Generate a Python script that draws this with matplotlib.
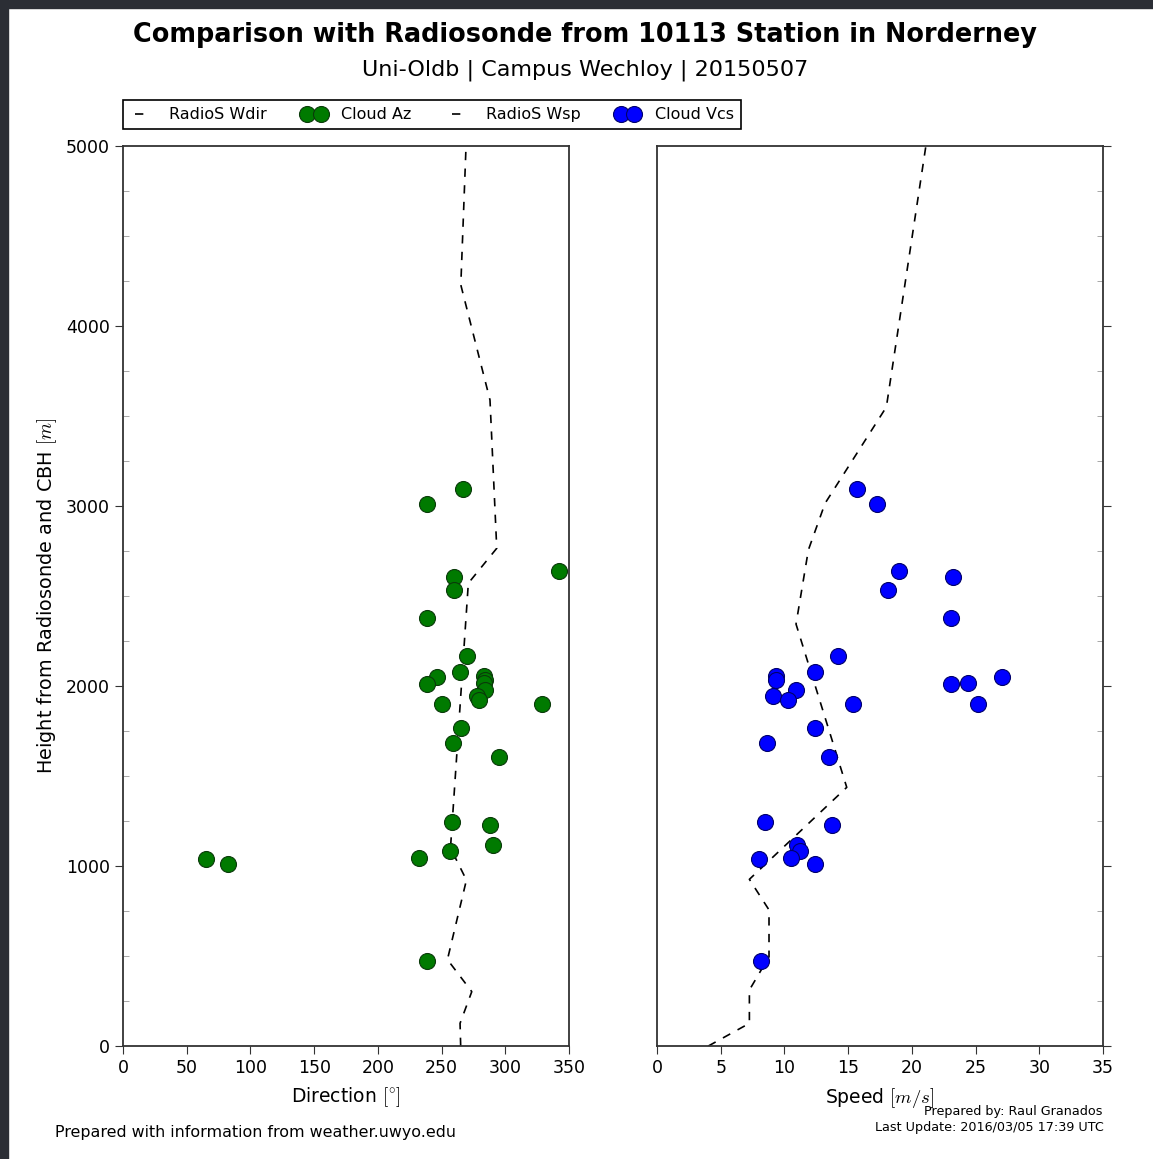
import numpy as np
import matplotlib
matplotlib.use('Agg')
import matplotlib.pyplot as plt
from matplotlib.patches import Rectangle

plt.rcParams['mathtext.fontset'] = 'cm'
plt.rcParams['font.family'] = 'DejaVu Sans'

# cloud base heights and matched cloud motion (azimuth / speed)
cbh = [3093, 3011, 2641, 2605, 2531, 2380, 2168, 2078, 2056, 2050, 2033, 2015, 2011,
       1980, 1942, 1922, 1900, 1900, 1764, 1683, 1607, 1247, 1226, 1115, 1084, 1043,
       1038, 1013, 472]
cloud_az = [267, 238.6, 342.5, 260, 260, 238.6, 269.8, 264.8, 283.4, 246.2, 284, 283, 238.6,
            284, 277.6, 279.2, 250.1, 328.6, 265, 259.3, 294.9, 258, 288, 290, 256.4, 232,
            65.4, 82.4, 238.6]
cloud_vcs = [15.7, 17.3, 19.0, 23.2, 18.1, 23.05, 14.2, 12.4, 9.3, 27.1, 9.3, 24.4, 23.05,
             10.9, 9.1, 10.3, 15.4, 25.2, 12.4, 8.6, 13.5, 8.45, 13.7, 11.0, 11.2, 10.5,
             8.0, 12.4, 8.2]

# radiosonde profiles (10113 Norderney)
hgt_wdir = [0, 126, 302, 480, 922, 1100, 2571, 2765, 3589, 4228, 5000]
wdir = [265, 264.5, 273.7, 254.6, 269.5, 257, 271, 293.3, 288, 265.1, 269.2]
hgt_wsp = [0, 126, 311, 496, 756, 926, 1437, 2344, 2756, 3015, 3550, 5000]
wsp = [4.03, 7.25, 7.25, 8.79, 8.79, 7.25, 14.89, 10.91, 11.88, 13.19, 18.0, 21.1]

W, H = 1153, 1159
fig = plt.figure(figsize=(W/100, H/100), dpi=100)
fig.patch.set_facecolor('white')

# dark screenshot frame on left/top
fig.patches.append(Rectangle((0, 0), 8/W, 1, transform=fig.transFigure, color='#2b2e35', zorder=0))
fig.patches.append(Rectangle((0, 1-8/H), 1, 8/H, transform=fig.transFigure, color='#2b2e35', zorder=0))

ax1 = fig.add_axes([123/W, 113/H, 446/W, 900/H])
ax2 = fig.add_axes([657/W, 113/H, 446/W, 900/H])

ax1.plot(wdir, hgt_wdir, color='k', ls='--', lw=1.2, dashes=(5, 5), label='RadioS Wdir')
ax1.plot(cloud_az, cbh, ls='', marker='o', ms=11.5, mfc='#007a00', mec='#0a3a0a', mew=0.8, label='Cloud Az')
ax2.plot(wsp, hgt_wsp, color='k', ls='--', lw=1.2, dashes=(5, 5), label='RadioS Wsp')
ax2.plot(cloud_vcs, cbh, ls='', marker='o', ms=11.5, mfc='#0000ff', mec='#00006a', mew=0.8, label='Cloud Vcs')

ax1.set_xlim(0, 350)
ax2.set_xlim(0, 35)
for ax in (ax1, ax2):
    ax.set_ylim(0, 5000)
    ax.set_yticks(np.arange(0, 5001, 1000))
    ax.set_yticks(np.arange(0, 5001, 250), minor=True)
    for s in ax.spines.values():
        s.set_color('#333333')
        s.set_linewidth(1.3)
    ax.tick_params(axis='both', which='major', labelsize=12.5, direction='out', length=6, color='#333333')
    ax.tick_params(axis='y', which='minor', direction='in', length=4, color='#999999')
ax1.set_xticks(np.arange(0, 351, 50))
ax2.set_xticks(np.arange(0, 36, 5))
ax2.yaxis.tick_right()
ax2.tick_params(axis='y', which='both', labelright=False)

ax1.set_xlabel(r'Direction $[^{\circ}]$', fontsize=13.5, labelpad=6)
ax2.set_xlabel(r'Speed $[m/s]$', fontsize=13.5, labelpad=6)
ax1.set_ylabel(r'Height from Radiosonde and CBH $[m]$', fontsize=13.9, labelpad=5)

fig.text(585/W, 1-35/H, 'Comparison with Radiosonde from 10113 Station in Norderney',
         ha='center', va='center', fontsize=18.4, fontweight='bold')
fig.text(585/W, 1-70/H, 'Uni-Oldb | Campus Wechloy | 20150507',
         ha='center', va='center', fontsize=16)

h1, l1 = ax1.get_legend_handles_labels()
h2, l2 = ax2.get_legend_handles_labels()
leg = fig.legend(h1+h2, l1+l2, loc='upper left', bbox_to_anchor=(123/W, 1-100/H), ncol=4,
                 numpoints=2, fontsize=11.5, fancybox=False, framealpha=1, edgecolor='black',
                 borderaxespad=0, handlelength=1.45, handletextpad=1.0, columnspacing=2.2,
                 borderpad=0.45)
leg.get_frame().set_linewidth(1.2)

fig.text(55/W, 1-1133/H, 'Prepared with information from weather.uwyo.edu',
         ha='left', va='center', fontsize=11.4)
fig.text(1103/W, 1-1111/H, 'Prepared by: Raul Granados', ha='right', va='center', fontsize=9.2)
fig.text(1104/W, 1-1128/H, 'Last Update: 2016/03/05 17:39 UTC', ha='right', va='center', fontsize=9.2)

fig.savefig('out.png', dpi=100)
